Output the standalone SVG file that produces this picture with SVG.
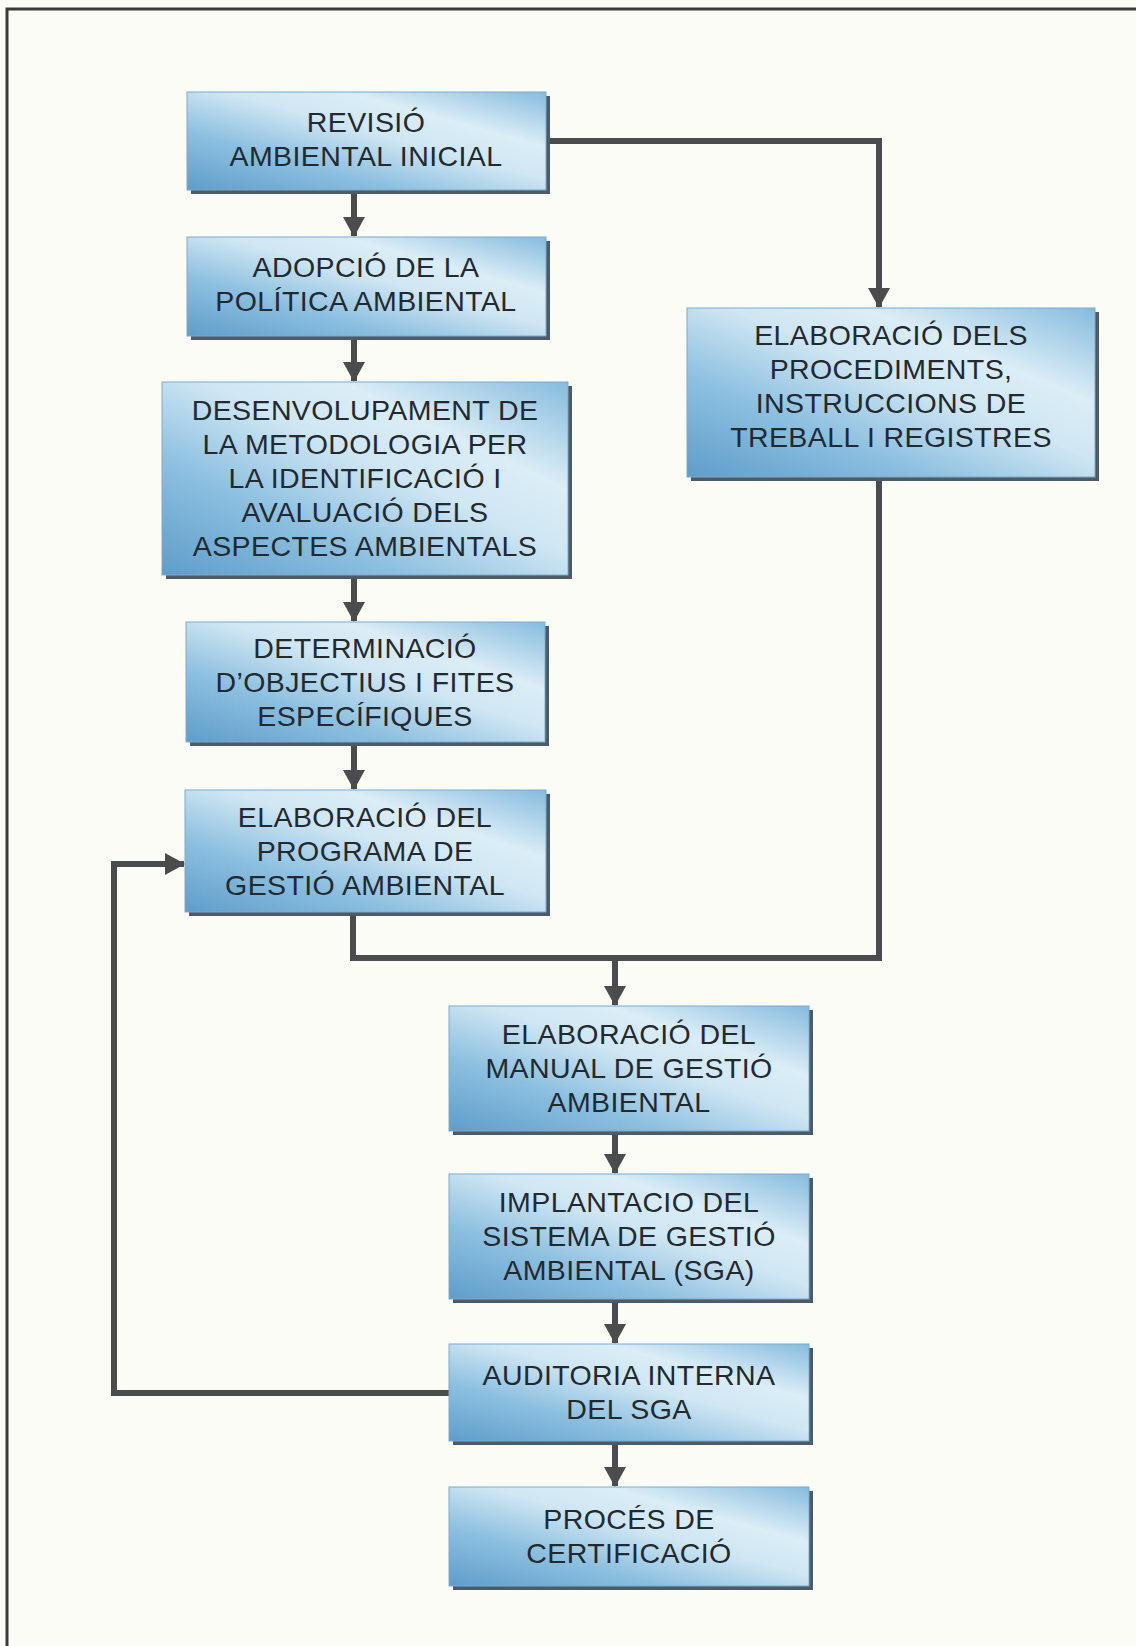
<svg xmlns="http://www.w3.org/2000/svg" width="1136" height="1646" viewBox="0 0 1136 1646">
  <style>
    .box { fill: url(#boxGrad); stroke: #7aaccf; stroke-width: 1; }
    .shadow { fill: #4f5b64; }
    .lbl { font-family: "Liberation Sans", Arial, sans-serif; font-size: 28.5px; letter-spacing: 0.4px; fill: #22292f; text-anchor: middle; }
    .conn { fill: none; stroke: #4a4c4e; stroke-width: 6; stroke-linejoin: miter; }
    .frame { fill: none; stroke: #3a3a3a; stroke-width: 3; }
  </style>
  <defs>
    <linearGradient id="boxGrad" x1="0" y1="1" x2="1" y2="0">
      <stop offset="0" stop-color="#5e9dca"/>
      <stop offset="0.3" stop-color="#8dc0e0"/>
      <stop offset="0.55" stop-color="#cfe6f3"/>
      <stop offset="0.72" stop-color="#dbedf6"/>
      <stop offset="1" stop-color="#86bbdd"/>
    </linearGradient>
    <marker id="arr" viewBox="0 0 20 22" refX="19" refY="11" markerWidth="20" markerHeight="22" markerUnits="userSpaceOnUse" orient="auto">
      <path d="M0,0 L20,11 L0,22 z" fill="#4a4c4e"/>
    </marker>
  </defs>

  <rect x="0" y="0" width="1136" height="1646" fill="#fcfcf7"/>
  <path class="frame" d="M7,1646 V9 H1136"/>

  <g id="connectors">
    <path class="conn" d="M354,190 V236" marker-end="url(#arr)"/>
    <path class="conn" d="M354,336 V381" marker-end="url(#arr)"/>
    <path class="conn" d="M354,575 V621" marker-end="url(#arr)"/>
    <path class="conn" d="M354,742 V789" marker-end="url(#arr)"/>
    <path class="conn" d="M546,141 H879 V307" marker-end="url(#arr)"/>
    <path class="conn" d="M353,912 V958 H879 V477"/>
    <path class="conn" d="M615,958 V1005" marker-end="url(#arr)"/>
    <path class="conn" d="M615,1131 V1173" marker-end="url(#arr)"/>
    <path class="conn" d="M615,1299 V1343" marker-end="url(#arr)"/>
    <path class="conn" d="M615,1441 V1486" marker-end="url(#arr)"/>
    <path class="conn" d="M449,1393 H114 V864 H184" marker-end="url(#arr)"/>
  </g>

  <g id="n1">
    <rect class="shadow" x="191" y="96" width="359" height="98"/>
    <rect class="box" x="187" y="92" width="359" height="98"/>
    <text class="lbl" x="366" y="132">REVISIÓ</text>
    <text class="lbl" x="366" y="166">AMBIENTAL INICIAL</text>
  </g>

  <g id="n2">
    <rect class="shadow" x="191" y="241" width="359" height="99"/>
    <rect class="box" x="187" y="237" width="359" height="99"/>
    <text class="lbl" x="366" y="277">ADOPCIÓ DE LA</text>
    <text class="lbl" x="366" y="311">POLÍTICA AMBIENTAL</text>
  </g>

  <g id="n3">
    <rect class="shadow" x="166" y="386" width="406" height="193"/>
    <rect class="box" x="162" y="382" width="406" height="193"/>
    <text class="lbl" x="365" y="420">DESENVOLUPAMENT DE</text>
    <text class="lbl" x="365" y="454">LA METODOLOGIA PER</text>
    <text class="lbl" x="365" y="488">LA IDENTIFICACIÓ I</text>
    <text class="lbl" x="365" y="522">AVALUACIÓ DELS</text>
    <text class="lbl" x="365" y="556">ASPECTES AMBIENTALS</text>
  </g>

  <g id="n4">
    <rect class="shadow" x="190" y="626" width="359" height="120"/>
    <rect class="box" x="186" y="622" width="359" height="120"/>
    <text class="lbl" x="365" y="658">DETERMINACIÓ</text>
    <text class="lbl" x="365" y="692">D’OBJECTIUS I FITES</text>
    <text class="lbl" x="365" y="726">ESPECÍFIQUES</text>
  </g>

  <g id="n5">
    <rect class="shadow" x="189" y="794" width="361" height="122"/>
    <rect class="box" x="185" y="790" width="361" height="122"/>
    <text class="lbl" x="365" y="827">ELABORACIÓ DEL</text>
    <text class="lbl" x="365" y="861">PROGRAMA DE</text>
    <text class="lbl" x="365" y="895">GESTIÓ AMBIENTAL</text>
  </g>

  <g id="n6">
    <rect class="shadow" x="691" y="312" width="408" height="169"/>
    <rect class="box" x="687" y="308" width="408" height="169"/>
    <text class="lbl" x="891" y="345">ELABORACIÓ DELS</text>
    <text class="lbl" x="891" y="379">PROCEDIMENTS,</text>
    <text class="lbl" x="891" y="413">INSTRUCCIONS DE</text>
    <text class="lbl" x="891" y="447">TREBALL I REGISTRES</text>
  </g>

  <g id="n7">
    <rect class="shadow" x="453" y="1010" width="360" height="125"/>
    <rect class="box" x="449" y="1006" width="360" height="125"/>
    <text class="lbl" x="629" y="1044">ELABORACIÓ DEL</text>
    <text class="lbl" x="629" y="1078">MANUAL DE GESTIÓ</text>
    <text class="lbl" x="629" y="1112">AMBIENTAL</text>
  </g>

  <g id="n8">
    <rect class="shadow" x="453" y="1178" width="360" height="125"/>
    <rect class="box" x="449" y="1174" width="360" height="125"/>
    <text class="lbl" x="629" y="1212">IMPLANTACIO DEL</text>
    <text class="lbl" x="629" y="1246">SISTEMA DE GESTIÓ</text>
    <text class="lbl" x="629" y="1280">AMBIENTAL (SGA)</text>
  </g>

  <g id="n9">
    <rect class="shadow" x="453" y="1348" width="360" height="97"/>
    <rect class="box" x="449" y="1344" width="360" height="97"/>
    <text class="lbl" x="629" y="1385">AUDITORIA INTERNA</text>
    <text class="lbl" x="629" y="1419">DEL SGA</text>
  </g>

  <g id="n10">
    <rect class="shadow" x="453" y="1491" width="360" height="99"/>
    <rect class="box" x="449" y="1487" width="360" height="99"/>
    <text class="lbl" x="629" y="1529">PROCÉS DE</text>
    <text class="lbl" x="629" y="1563">CERTIFICACIÓ</text>
  </g>
</svg>
